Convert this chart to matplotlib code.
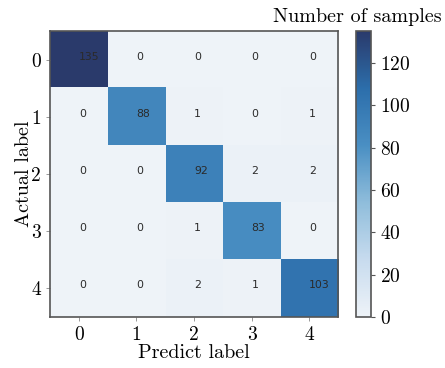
import numpy as np
import matplotlib
matplotlib.use("Agg")
import matplotlib.pyplot as plt
from matplotlib.colors import LinearSegmentedColormap

labels = ["0", "1", "2", "3", "4"]
counts = [
    [135, 0, 0, 0, 0],
    [0, 88, 1, 0, 1],
    [0, 0, 92, 2, 2],
    [0, 0, 1, 83, 0],
    [0, 0, 2, 1, 103],
]
cbar_ticks = [0, 20, 40, 60, 80, 100, 120]

plt.rcParams["font.family"] = ["cmr10", "DejaVu Serif"]
plt.rcParams["axes.formatter.use_mathtext"] = True
plt.rcParams["mathtext.fontset"] = "cm"

cmap = LinearSegmentedColormap.from_list(
    "faded_blues",
    ["#eef3f8", "#c7dbee", "#8fbddb", "#4a8fc3", "#2c6eab", "#2a3a6b"],
)

data = np.array(counts)

fig = plt.figure(figsize=(4.45, 3.68), dpi=100)
ax = fig.add_axes([0.1124, 0.1386, 0.6472, 0.7772])
cax = fig.add_axes([0.8005, 0.1386, 0.0337, 0.7772])

im = ax.imshow(data, cmap=cmap, vmin=0, vmax=data.max(), aspect="auto")

for i in range(data.shape[0]):
    for j in range(data.shape[1]):
        ax.text(j, i, str(data[i, j]), ha="left", va="baseline",
                fontsize=7.8, color="#2a2a2a", family="DejaVu Sans")

ax.set_xticks(range(len(labels)))
ax.set_xticklabels(labels)
ax.set_yticks(range(len(labels)))
ax.set_yticklabels(labels)
ax.tick_params(labelsize=14, length=3, color="#888888", width=0.6)
ax.set_xlabel("Predict label", fontsize=14.5, labelpad=0)
ax.set_ylabel("Actual label", fontsize=14.5, labelpad=-1)
for s in ax.spines.values():
    s.set_color("#555555")
    s.set_linewidth(1.2)

cb = fig.colorbar(im, cax=cax, ticks=cbar_ticks)
cb.ax.tick_params(labelsize=14, length=3, color="#555555", width=0.8)
cb.outline.set_edgecolor("#555555")
cb.outline.set_linewidth(1.2)

fig.text(0.993, 0.955, "Number of samples", ha="right", va="center",
         fontsize=14.5)

fig.savefig("out.png", dpi=100)
